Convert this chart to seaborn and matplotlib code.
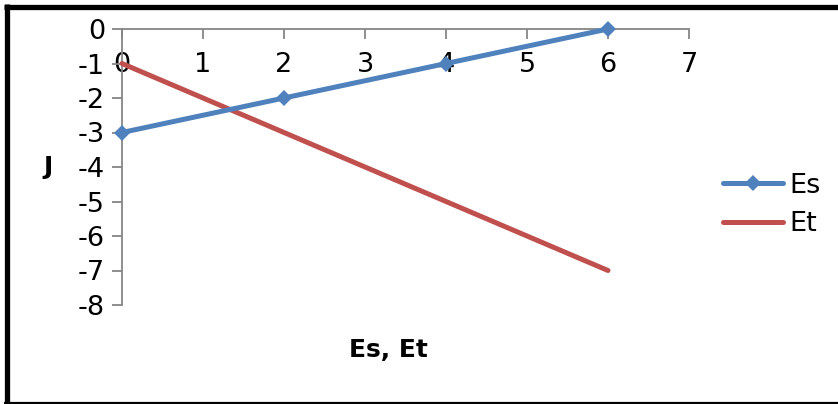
import matplotlib
matplotlib.use("Agg")
import matplotlib.pyplot as plt
import seaborn as sns
import pandas as pd
from matplotlib.lines import Line2D

# Data
x_vals = [0, 2, 4, 6]
es_vals = [-3, -2, -1, 0]
et_vals = [-1, -3, -5, -7]
x_ticks = [0, 1, 2, 3, 4, 5, 6, 7]
y_ticks = [0, -1, -2, -3, -4, -5, -6, -7, -8]

sns.set_theme(style="white")
plt.rcParams['font.family'] = ['DejaVu Sans']
plt.rcParams['text.color'] = 'black'
plt.rcParams['axes.labelcolor'] = 'black'

fig = plt.figure(figsize=(8.38, 4.04), dpi=100)
ax = fig.add_axes([122/838, 1-305/404, (689-122)/838, (305-29)/404])

df_es = pd.DataFrame({"x": x_vals, "y": es_vals})
df_et = pd.DataFrame({"x": x_vals, "y": et_vals})

sns.lineplot(data=df_es, x="x", y="y", ax=ax, color="#4F81BD", linewidth=3.6,
             marker="D", markersize=8.5, markeredgewidth=0, label="Es", clip_on=False, zorder=5)
sns.lineplot(data=df_et, x="x", y="y", ax=ax, color="#C0504D", linewidth=3.6,
             label="Et", clip_on=False, zorder=4)

ax.set_xlim(0, 7)
ax.set_ylim(-8, 0)
ax.set_xticks(x_ticks)
ax.set_yticks(y_ticks)
ax.set_xticklabels([str(v) for v in x_ticks])
ax.set_yticklabels([str(v) for v in y_ticks])

for s in ["top", "right"]:
    ax.spines[s].set_visible(False)
ax.spines["bottom"].set_position(("data", 0))
for s in ["left", "bottom"]:
    ax.spines[s].set_color("#868686")
    ax.spines[s].set_linewidth(1.3)
ax.tick_params(axis="both", which="major", direction="out", length=7.2, width=1.3,
               color="#868686", labelsize=19.5, labelcolor="black", bottom=True, left=True)
ax.tick_params(axis="x", pad=9)
ax.tick_params(axis="y", pad=5)
ax.grid(False)

ax.set_xlabel("Es, Et", fontsize=18, fontweight="bold", color="black")
ax.set_ylabel("J", fontsize=18, fontweight="bold", rotation=0, color="black")
ax.xaxis.set_label_coords((388-122)/567, (305-338)/276)
ax.yaxis.label.set_va("center")
ax.yaxis.label.set_ha("center")
ax.yaxis.set_label_coords((48-122)/567, 0.5)

leg = ax.legend(loc="center left", bbox_to_anchor=(723/838, 1-205/404),
                bbox_transform=fig.transFigure, frameon=False, fontsize=19.5,
                handlelength=2.2, handletextpad=0.25, labelspacing=0.45,
                borderpad=0, borderaxespad=0)
for t in leg.get_texts():
    t.set_color("black")

# Outer frame (left, top, bottom)
def fy(y):
    return 1 - y/404
fig.add_artist(Line2D([6.5/838, 6.5/838], [fy(4), fy(404)], color="black", lw=3.8,
                      transform=fig.transFigure, solid_capstyle="butt"))
fig.add_artist(Line2D([4/838, 1], [fy(6.5)]*2, color="black", lw=3.8,
                      transform=fig.transFigure, solid_capstyle="butt"))
fig.add_artist(Line2D([4/838, 1], [fy(403)]*2, color="black", lw=1.6,
                      transform=fig.transFigure, solid_capstyle="butt"))

fig.savefig("out.png", dpi=100)
